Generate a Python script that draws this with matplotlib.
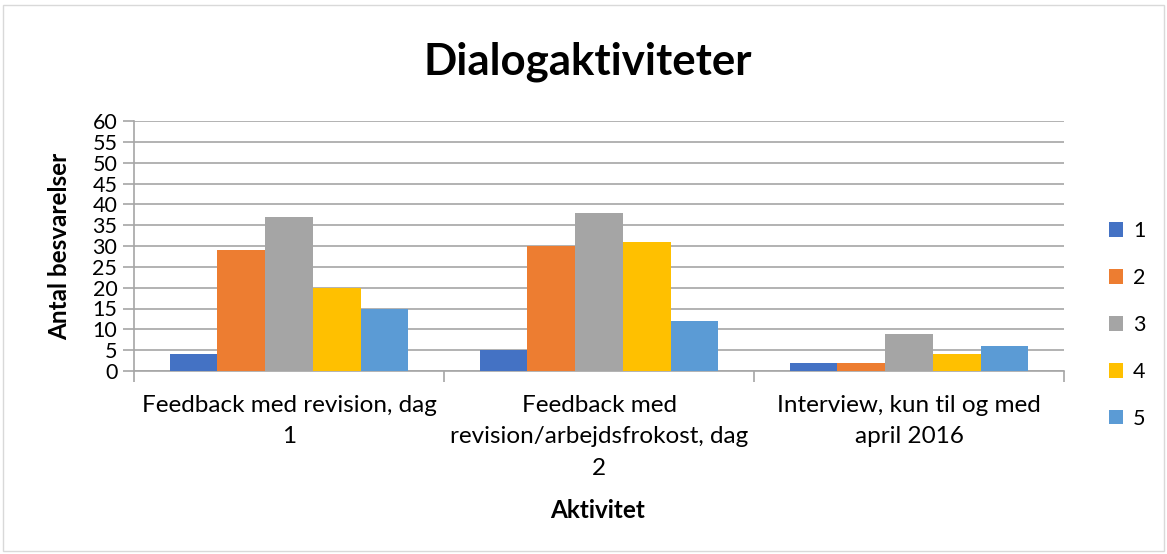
import matplotlib.pyplot as plt
import numpy as np
from matplotlib.patches import Rectangle

plt.rcParams["font.family"] = ["Lato", "DejaVu Sans"]

categories = [
    "Feedback med revision, dag\n1",
    "Feedback med\nrevision/arbejdsfrokost, dag\n2",
    "Interview, kun til og med\napril 2016",
]
series_names = ["1", "2", "3", "4", "5"]
values = {
    "1": [4, 5, 2],
    "2": [29, 30, 2],
    "3": [37, 38, 9],
    "4": [20, 31, 4],
    "5": [15, 12, 6],
}
colors = ["#4472c4", "#ed7d31", "#a5a5a5", "#ffc000", "#5b9bd5"]

W, H = 1167, 554
fig = plt.figure(figsize=(W / 100, H / 100), dpi=100)
ax = fig.add_axes([134 / W, 1 - 371 / H, (1064 - 134) / W, (371 - 121) / H])

x = np.arange(len(categories))
n = len(series_names)
width = 1 / (n + 1.5)
for i, (name, color) in enumerate(zip(series_names, colors)):
    offset = (i - (n - 1) / 2) * width
    ax.bar(x + offset, values[name], width, color=color, label=name, zorder=3)

ax.set_xlim(-0.5, len(categories) - 0.5)
ax.set_ylim(0, 60)
ax.set_yticks(np.arange(0, 61, 5))
ax.tick_params(axis="y", labelsize=15.5, length=8, color="#a6a6a6", width=1.2, pad=4)
ax.grid(axis="y", color="#a6a6a6", linewidth=1.2, zorder=0)

ax.set_xticks(x)
ax.set_xticklabels(categories, fontsize=17.5, linespacing=1.62)
ax.tick_params(axis="x", length=0, pad=17)
ax.set_xticks(np.arange(-0.5, len(categories), 1), minor=True)
ax.tick_params(axis="x", which="minor", length=8, color="#a6a6a6", width=1.2)

for side in ["top", "right"]:
    ax.spines[side].set_visible(False)
for side in ["left", "bottom"]:
    ax.spines[side].set_color("#a6a6a6")
    ax.spines[side].set_linewidth(1.2)

fig.text(60 / W, 1 - 246 / H, "Antal besvarelser", fontsize=17.5, fontweight="bold",
         rotation=90, ha="center", va="center")
fig.text(598 / W, 1 - 511 / H, "Aktivitet", fontsize=17.5, fontweight="bold",
         ha="center", va="center")
fig.text(588 / W, 1 - 62 / H, "Dialogaktiviteter", fontsize=31.5, fontweight="bold",
         ha="center", va="center")

ax.legend(loc="center left", bbox_to_anchor=(1090 / W, 1 - 325 / H),
          bbox_transform=fig.transFigure, frameon=False, fontsize=15.5,
          handlelength=0.65, handleheight=0.65, labelspacing=1.25, handletextpad=0.45)

fig.patches.append(Rectangle((3 / W, 3 / H), 1 - 6 / W, 1 - 8 / H,
                             transform=fig.transFigure, fill=False,
                             edgecolor="#d9d9d9", linewidth=1))

fig.savefig("out.png", dpi=100)
